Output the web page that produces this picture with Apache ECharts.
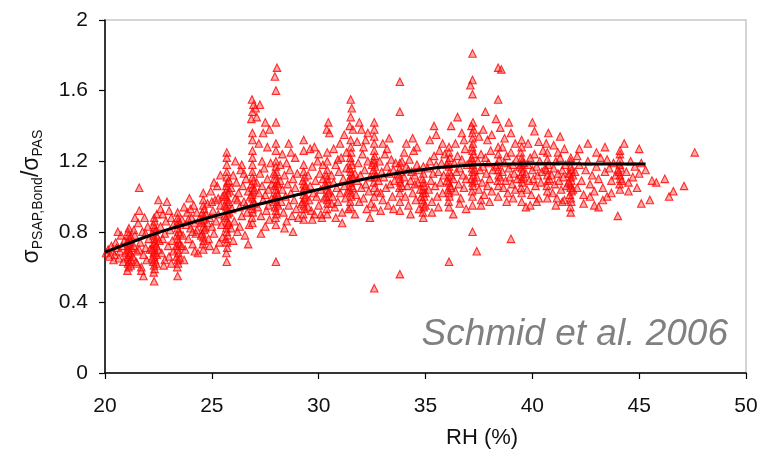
<!DOCTYPE html>
<html>
<head>
<meta charset="utf-8">
<script src="https://cdn.jsdelivr.net/npm/echarts@6/dist/echarts.min.js"></script>
<style>html,body{margin:0;padding:0;background:#fff}#c{width:761px;height:451px}</style>
</head>
<body>
<div id="c"></div>
<script>
var xTicks = [20, 25, 30, 35, 40, 45, 50];
var yTicks = [0, 0.4, 0.8, 1.2, 1.6, 2];
var fitRH = [20,21,22,23,24,25,26,27,28,29,30,31,32,33,34,35,36,37,38,39,40,41,42,43,44,45.3];
var fitRatio = [0.685,0.73,0.775,0.815,0.85,0.885,0.918,0.95,0.98,1.01,1.04,1.068,1.095,1.118,1.138,1.155,1.168,1.177,1.182,1.184,1.185,1.185,1.185,1.184,1.184,1.184];
var points = [
[20.05,0.68],[20.15,0.70],[20.2,0.66],[20.3,0.72],[20.35,0.69],[20.45,0.67],[20.5,0.74],[20.55,0.71],[20.65,0.65],[20.7,0.69],[20.75,0.78],[20.8,0.72],[20.85,0.63],[20.9,0.75],[20.95,0.68],[20.6,0.80],[20.4,0.64],
[21.05,0.58],[21.1,0.60],[21.08,0.62],[21.12,0.63],[21.1,0.65],[21.06,0.66],[21.14,0.67],[21.1,0.69],[21.08,0.70],[21.12,0.72],[21.1,0.73],[21.06,0.75],[21.14,0.76],[21.1,0.78],[21.08,0.80],[21.12,0.82],[21.2,0.61],[21.22,0.64],[21.2,0.68],[21.24,0.71],[21.2,0.74],[21.22,0.77],
[21.3,0.66],[21.35,0.72],[21.4,0.78],[21.45,0.63],[21.5,0.69],[21.55,0.85],[21.6,1.05],[21.6,0.92],[21.65,0.74],[21.7,0.60],[21.75,0.80],[21.8,0.67],[21.85,0.88],[21.9,0.71],[21.95,0.64],[22.0,0.83],[22.05,0.76],[21.4,0.88],[21.7,0.58],[21.8,0.55],[21.5,0.62],[21.9,0.79],[22.1,0.70],[21.35,0.81],[21.6,0.70],
[22.3,0.52],[22.28,0.57],[22.32,0.59],[22.3,0.61],[22.26,0.63],[22.34,0.64],[22.3,0.66],[22.28,0.68],[22.32,0.69],[22.3,0.71],[22.26,0.73],[22.34,0.74],[22.3,0.76],[22.28,0.78],[22.32,0.80],[22.3,0.82],[22.28,0.84],[22.32,0.86],[22.3,0.88],[22.4,0.62],[22.42,0.67],[22.4,0.72],[22.44,0.77],[22.4,0.81],[22.42,0.90],[22.2,0.70],[22.2,0.65],[22.2,0.79],
[22.5,0.98],[22.55,0.75],[22.6,0.83],[22.65,0.68],[22.7,0.90],[22.75,0.61],[22.8,0.79],[22.85,0.86],[22.9,0.97],[22.95,0.72],[23.0,0.66],[23.05,0.81],[23.1,0.88],[23.15,0.75],[23.2,0.69],[22.6,0.93],[22.8,0.64],[23.0,0.92],[22.7,0.76],[23.2,0.84],[22.5,0.70],[23.1,0.62],
[23.4,0.55],[23.38,0.60],[23.42,0.62],[23.4,0.64],[23.36,0.66],[23.44,0.68],[23.4,0.70],[23.38,0.72],[23.42,0.74],[23.4,0.76],[23.36,0.78],[23.44,0.80],[23.4,0.82],[23.38,0.84],[23.42,0.86],[23.4,0.88],[23.4,0.91],[23.5,0.65],[23.5,0.73],[23.52,0.79],[23.5,0.85],
[23.6,0.87],[23.65,0.78],[23.7,0.94],[23.75,0.70],[23.8,0.84],[23.85,0.91],[23.9,0.76],[23.95,0.99],[24.0,0.82],[24.05,0.88],[24.1,0.73],[24.15,0.95],[24.2,0.85],[24.25,0.79],[24.3,0.91],[24.35,0.68],[24.4,0.87],[23.7,0.64],[24.0,0.93],[24.3,0.81],[23.9,0.87],[24.1,0.80],[24.2,0.69],[23.6,0.72],
[24.6,0.70],[24.58,0.73],[24.62,0.75],[24.6,0.77],[24.56,0.79],[24.64,0.81],[24.6,0.83],[24.58,0.85],[24.62,0.87],[24.6,0.89],[24.56,0.91],[24.64,0.93],[24.6,0.95],[24.6,0.98],[24.6,1.02],[24.5,0.78],[24.52,0.86],[24.7,0.82],[24.72,0.90],
[24.8,0.96],[24.85,0.76],[24.9,0.88],[24.95,1.03],[25.0,0.83],[25.05,0.92],[25.1,0.79],[25.15,0.98],[25.2,0.86],[25.25,1.06],[25.3,0.90],[25.35,0.74],[25.4,0.95],[25.45,0.84],[25.5,1.00],[25.5,0.77],[24.9,0.72],[25.2,0.70],[25.1,1.08],[25.4,1.12],[25.0,0.97],[25.3,0.99],[24.8,0.85],
[25.7,0.63],[25.68,0.68],[25.72,0.71],[25.7,0.74],[25.66,0.76],[25.74,0.78],[25.7,0.80],[25.68,0.82],[25.72,0.84],[25.7,0.86],[25.66,0.88],[25.74,0.90],[25.7,0.92],[25.68,0.94],[25.72,0.96],[25.7,0.98],[25.66,1.00],[25.74,1.02],[25.7,1.04],[25.68,1.06],[25.72,1.08],[25.7,1.11],[25.7,1.14],[25.7,1.18],[25.7,1.22],[25.7,1.25],[25.8,0.85],[25.82,0.91],[25.8,0.97],[25.84,1.03],[25.8,1.09],[25.6,0.89],[25.6,0.95],[25.6,1.01],
[25.9,1.05],[25.95,0.93],[26.0,1.12],[26.05,0.86],[26.1,0.99],[26.15,1.08],[26.2,0.80],[26.25,1.02],[26.3,0.94],[26.35,1.15],[26.4,0.89],[26.45,1.06],[26.5,0.97],[26.55,0.78],[26.6,1.10],[26.65,0.91],[26.7,1.03],[26.75,0.84],[26.0,0.75],[26.2,0.98],[26.4,1.18],[26.6,0.95],[26.3,0.83],[26.5,1.13],[26.1,1.20],[25.9,0.82],[26.7,0.73],
[26.9,0.85],[26.88,0.88],[26.92,0.91],[26.9,0.93],[26.86,0.95],[26.94,0.97],[26.9,0.99],[26.88,1.01],[26.92,1.03],[26.9,1.05],[26.86,1.07],[26.94,1.09],[26.9,1.11],[26.9,1.14],[26.9,1.18],[26.9,1.22],[26.9,1.26],[26.9,1.32],[26.9,1.36],[26.85,1.44],[26.9,1.48],[26.95,1.52],[26.88,1.55],[27.05,1.50],[27.1,1.45],[27.0,0.96],[27.0,1.04],[26.8,1.00],
[27.1,1.08],[27.15,0.94],[27.2,1.02],[27.25,1.13],[27.3,0.89],[27.35,1.06],[27.4,0.98],[27.45,1.16],[27.5,1.01],[27.55,0.92],[27.6,1.10],[27.65,1.04],[27.7,0.87],[27.75,1.19],[27.8,0.99],[27.2,1.30],[27.4,1.36],[27.6,1.28],[27.3,0.79],[27.5,0.83],[27.8,1.07],[27.25,1.52],[27.5,1.42],[27.7,1.38],[27.35,1.20],[27.65,0.95],
[28.0,0.84],[27.98,0.88],[28.02,0.90],[28.0,0.92],[27.96,0.94],[28.04,0.96],[28.0,0.98],[27.98,1.00],[28.02,1.02],[28.0,1.04],[27.96,1.06],[28.04,1.08],[28.0,1.10],[27.98,1.12],[28.02,1.14],[28.0,1.17],[28.0,1.20],[28.0,1.26],[28.0,1.30],[28.0,1.42],[28.0,1.60],[27.95,1.68],[28.05,1.73],[28.0,0.63],[28.1,0.95],[28.1,1.01],[28.1,1.07],[27.9,0.97],[27.9,1.13],
[28.2,1.09],[28.25,0.97],[28.3,1.04],[28.35,0.91],[28.4,1.12],[28.45,1.00],[28.5,0.86],[28.55,1.07],[28.6,0.95],[28.65,1.15],[28.7,1.02],[28.75,0.89],[28.8,1.10],[28.85,0.98],[28.9,1.05],[28.95,0.93],[29.0,1.13],[28.3,1.24],[28.6,1.30],[28.9,1.22],[28.4,0.82],[28.8,0.80],[28.2,1.18],[28.5,1.19],[29.05,0.88],[28.7,1.25],
[29.3,0.87],[29.28,0.90],[29.32,0.93],[29.3,0.95],[29.26,0.97],[29.34,0.99],[29.3,1.01],[29.28,1.03],[29.32,1.05],[29.3,1.07],[29.26,1.09],[29.34,1.11],[29.3,1.14],[29.3,1.18],[29.3,1.26],[29.3,1.32],[29.4,1.00],[29.4,1.06],[29.2,0.96],
[29.5,1.12],[29.55,0.98],[29.6,1.06],[29.65,0.92],[29.7,1.17],[29.75,1.02],[29.8,0.90],[29.85,1.09],[29.9,1.00],[29.95,1.20],[30.0,0.95],[30.05,1.13],[30.1,1.04],[30.15,0.88],[30.2,1.10],[30.25,0.99],[29.6,1.27],[30.0,1.24],[29.8,1.28],[29.7,0.87],[30.2,1.18],[29.5,0.94],[30.1,0.90],
[30.4,0.90],[30.38,0.93],[30.42,0.96],[30.4,0.98],[30.36,1.00],[30.44,1.02],[30.4,1.04],[30.38,1.06],[30.42,1.08],[30.4,1.10],[30.36,1.12],[30.4,1.15],[30.4,1.20],[30.4,1.25],[30.45,1.42],[30.38,1.38],[30.5,1.36],[30.5,1.03],[30.3,1.07],
[30.6,1.12],[30.65,1.00],[30.7,1.08],[30.75,0.94],[30.8,1.18],[30.85,1.05],[30.9,0.97],[30.95,1.14],[31.0,1.02],[31.05,1.22],[31.1,0.91],[31.15,1.10],[31.2,1.06],[31.25,0.99],[31.3,1.16],[31.35,1.03],[30.7,1.27],[31.0,1.30],[31.2,1.35],[30.8,0.88],[31.1,0.85],[31.3,1.25],[30.9,1.21],[31.4,0.93],[30.6,0.96],
[31.5,0.94],[31.48,0.97],[31.52,1.00],[31.5,1.02],[31.46,1.04],[31.54,1.06],[31.5,1.08],[31.48,1.10],[31.52,1.12],[31.5,1.14],[31.46,1.16],[31.54,1.18],[31.5,1.20],[31.48,1.22],[31.52,1.25],[31.5,1.28],[31.5,1.32],[31.45,1.40],[31.5,1.45],[31.55,1.50],[31.5,1.55],[31.6,1.05],[31.6,1.11],[31.4,1.09],[31.6,1.38],
[31.7,1.13],[31.75,1.01],[31.8,1.09],[31.85,1.19],[31.9,0.97],[31.95,1.12],[32.0,1.05],[32.05,1.24],[32.1,0.99],[32.15,1.15],[32.2,1.07],[32.25,0.93],[32.3,1.20],[32.35,1.03],[32.4,1.11],[32.45,0.96],[31.8,1.31],[32.0,1.38],[32.2,1.32],[31.7,0.90],[32.4,0.88],[32.1,1.28],[31.9,1.42],[32.3,1.36],
[32.6,1.05],[32.58,1.08],[32.62,1.11],[32.6,1.13],[32.56,1.15],[32.64,1.17],[32.6,1.19],[32.58,1.21],[32.62,1.23],[32.6,1.26],[32.6,1.30],[32.6,1.34],[32.6,1.38],[32.6,1.42],[32.6,1.00],[32.6,0.94],[32.6,0.48],[32.7,1.12],[32.5,1.18],
[32.8,1.09],[32.85,1.20],[32.9,1.02],[32.95,1.14],[33.0,0.98],[33.05,1.11],[33.1,1.24],[33.15,1.05],[33.2,1.17],[33.25,0.95],[33.3,1.13],[33.35,1.07],[33.4,1.21],[33.45,1.00],[33.5,1.15],[33.55,1.09],[33.0,1.30],[33.3,1.33],[32.9,0.92],[33.5,0.93],[33.2,1.27],[33.6,1.19],[32.75,1.03],
[33.8,1.02],[33.78,1.05],[33.82,1.08],[33.8,1.10],[33.76,1.12],[33.84,1.14],[33.8,1.16],[33.8,1.19],[33.8,0.97],[33.8,0.92],[33.8,1.48],[33.8,1.65],[33.8,0.56],[33.9,1.06],[33.7,1.13],[33.9,1.20],
[34.0,1.11],[34.05,1.00],[34.1,1.17],[34.15,1.06],[34.2,0.95],[34.25,1.21],[34.3,1.09],[34.35,1.14],[34.4,1.02],[34.45,1.26],[34.5,1.12],[34.55,0.98],[34.6,1.18],[34.65,1.08],[34.7,1.15],[34.75,1.04],[34.1,1.30],[34.4,1.33],[34.6,1.28],[34.3,0.90],[34.7,0.93],[34.0,1.25],[34.5,1.07],[34.2,1.15],
[34.9,0.88],[34.88,0.91],[34.92,0.94],[34.9,0.96],[34.86,0.98],[34.94,1.00],[34.9,1.02],[34.88,1.04],[34.92,1.06],[34.9,1.08],[34.86,1.10],[34.9,1.13],[34.9,1.17],[35.0,0.95],[35.0,1.02],[34.8,1.00],
[35.1,1.16],[35.15,1.04],[35.2,1.20],[35.25,1.09],[35.3,0.97],[35.35,1.13],[35.4,1.23],[35.45,1.06],[35.5,1.18],[35.55,1.00],[35.6,1.14],[35.65,1.26],[35.7,1.08],[35.75,1.19],[35.8,1.02],[35.85,1.12],[35.2,1.32],[35.5,1.35],[35.8,1.30],[35.3,0.91],[35.6,0.94],[35.4,1.40],[35.9,1.24],
[36.1,0.94],[36.08,0.97],[36.12,1.00],[36.1,1.02],[36.06,1.04],[36.14,1.06],[36.1,1.08],[36.08,1.11],[36.12,1.14],[36.1,1.17],[36.06,1.20],[36.14,1.22],[36.1,1.25],[36.1,1.28],[36.1,0.63],[36.2,1.05],[36.2,1.12],[36.0,1.09],[36.0,1.18],[36.2,1.40],
[36.3,1.10],[36.35,1.19],[36.4,1.03],[36.45,1.14],[36.5,1.23],[36.55,1.07],[36.6,1.16],[36.65,0.99],[36.7,1.21],[36.75,1.12],[36.8,1.05],[36.85,1.27],[36.9,1.10],[36.95,1.18],[36.4,1.30],[36.7,1.36],[36.6,0.96],[36.9,0.93],[36.5,1.45],[36.3,0.90],[36.8,1.32],
[37.2,1.00],[37.18,1.03],[37.22,1.06],[37.2,1.08],[37.16,1.10],[37.24,1.12],[37.2,1.14],[37.18,1.16],[37.22,1.18],[37.2,1.20],[37.16,1.22],[37.24,1.24],[37.2,1.26],[37.18,1.28],[37.22,1.30],[37.2,1.33],[37.2,1.36],[37.15,1.40],[37.22,1.42],[37.25,1.38],[37.2,0.95],[37.2,0.80],[37.2,1.58],[37.2,1.66],[37.2,1.81],[37.1,1.63],[37.3,1.15],[37.3,1.09],[37.1,1.19],
[37.4,1.11],[37.45,1.20],[37.5,1.04],[37.55,1.15],[37.6,1.24],[37.65,1.08],[37.7,1.17],[37.75,1.01],[37.8,1.22],[37.85,1.13],[37.9,1.06],[37.95,1.19],[38.0,1.10],[38.05,1.26],[38.1,1.03],[38.15,1.15],[37.5,1.34],[37.7,1.38],[37.9,1.32],[37.6,0.95],[38.0,0.97],[37.8,1.48],[38.1,1.35],[37.4,0.69],[37.6,0.98],
[38.4,1.06],[38.38,1.09],[38.42,1.12],[38.4,1.15],[38.36,1.18],[38.44,1.21],[38.4,1.24],[38.4,1.28],[38.4,1.00],[38.4,1.55],[38.4,1.73],[38.5,1.11],[38.3,1.17],[38.55,1.72],[38.5,1.39],[38.3,1.44],
[38.6,1.14],[38.65,1.05],[38.7,1.19],[38.75,1.09],[38.8,1.23],[38.85,1.02],[38.9,1.16],[38.95,1.11],[39.0,1.25],[39.05,1.07],[39.1,1.18],[39.15,1.13],[39.2,1.04],[39.25,1.21],[38.7,1.33],[39.0,1.36],[39.2,1.30],[38.8,0.97],[39.1,0.99],[38.9,1.42],[39.3,1.10],[38.6,1.28],[39.0,0.76],
[39.5,1.02],[39.48,1.05],[39.52,1.08],[39.5,1.10],[39.46,1.12],[39.54,1.14],[39.5,1.16],[39.48,1.18],[39.52,1.20],[39.5,1.22],[39.46,1.25],[39.5,1.28],[39.5,1.32],[39.5,0.97],[39.6,1.11],[39.4,1.17],[39.6,1.19],
[39.7,1.13],[39.75,1.04],[39.8,1.18],[39.85,1.09],[39.9,1.22],[39.95,1.01],[40.0,1.15],[40.05,1.10],[40.1,1.24],[40.15,1.06],[40.2,1.17],[40.25,1.12],[40.3,0.99],[40.35,1.20],[40.4,1.08],[40.45,1.14],[39.8,1.30],[40.1,1.37],[40.3,1.31],[39.9,0.95],[40.2,0.97],[40.0,1.42],[40.5,1.26],[39.7,0.94],
[40.7,1.03],[40.68,1.06],[40.72,1.09],[40.7,1.12],[40.66,1.15],[40.74,1.18],[40.7,1.21],[40.7,1.25],[40.7,0.99],[40.8,1.10],[40.6,1.16],[40.75,1.36],[40.65,1.30],
[40.9,1.12],[40.95,1.02],[41.0,1.16],[41.05,1.07],[41.1,1.20],[41.15,0.99],[41.2,1.13],[41.25,1.09],[41.3,1.22],[41.35,1.04],[41.4,1.15],[41.45,1.11],[41.5,0.98],[41.55,1.18],[41.6,1.06],[41.0,1.29],[41.3,1.34],[41.5,1.27],[41.1,0.95],[41.4,0.97],[41.7,1.13],[41.2,1.25],
[41.8,0.91],[41.78,0.94],[41.82,0.97],[41.8,0.99],[41.76,1.01],[41.84,1.03],[41.8,1.05],[41.78,1.07],[41.82,1.09],[41.8,1.11],[41.76,1.13],[41.84,1.15],[41.8,1.17],[41.8,1.20],[41.8,1.22],[41.9,1.04],[41.9,1.12],[41.7,1.08],
[42.0,1.14],[42.1,1.05],[42.2,1.18],[42.3,1.09],[42.4,1.01],[42.5,1.15],[42.6,1.20],[42.7,1.07],[42.8,1.12],[42.9,1.03],[43.0,1.17],[43.1,1.10],[43.2,1.22],[43.3,1.05],[43.4,1.14],[43.5,1.00],[43.6,1.16],[43.7,1.09],[43.8,1.19],[42.2,1.27],[42.6,1.30],[43.0,1.25],[43.4,1.28],[42.4,0.96],[42.9,0.95],[43.3,0.98],[43.7,1.02],[42.1,1.23],[42.7,1.00],[43.1,0.94],[43.5,1.21],[43.9,1.12],
[44.1,1.04],[44.08,1.07],[44.12,1.10],[44.1,1.12],[44.06,1.14],[44.14,1.16],[44.1,1.18],[44.1,1.21],[44.1,1.24],[44.1,1.26],[44.2,1.09],[44.0,1.15],[44.0,0.89],[44.3,1.30],[44.4,1.14],[44.5,1.08],[44.6,1.20],[44.7,1.11],[44.8,1.17],[44.9,1.05],[45.0,1.13],[45.1,1.19],[45.0,1.27],[45.3,1.15],[44.5,1.03],[45.6,1.09],[45.8,1.08],[46.2,1.10],[45.1,0.96],[45.5,0.98],[46.4,1.00],[46.6,1.03],[47.1,1.06],[47.6,1.25]
];

var FONT = 'Liberation Sans, Arial, sans-serif';
var chart = echarts.init(document.getElementById('c'), null, {renderer: 'canvas'});
var fitData = fitRH.map(function (x, i) { return [x, fitRatio[i]]; });
chart.setOption({
  animation: false,
  backgroundColor: '#fff',
  grid: {left: 105, right: 15, top: 20, bottom: 78, show: true, borderColor: '#c8c8c8', borderWidth: 1.5, containLabel: false},
  xAxis: {
    type: 'value', min: xTicks[0], max: xTicks[xTicks.length - 1], interval: 5,
    axisLine: {show: true, onZero: false, lineStyle: {color: '#000', width: 1.5}},
    axisTick: {show: true, inside: false, length: 6, lineStyle: {color: '#000', width: 1.2}},
    axisLabel: {margin: 23, fontSize: 21, color: '#111', fontFamily: FONT},
    splitLine: {show: false}
  },
  yAxis: {
    type: 'value', min: yTicks[0], max: yTicks[yTicks.length - 1], interval: 0.4,
    axisLine: {show: true, onZero: false, lineStyle: {color: '#000', width: 1.5}},
    axisTick: {show: true, inside: false, length: 6, lineStyle: {color: '#000', width: 1.2}},
    axisLabel: {margin: 17, fontSize: 21, color: '#111', fontFamily: FONT},
    splitLine: {show: false},
    name: '{s|σ}{sub|PSAP,Bond}{s|/σ}{sub|PAS}',
    nameLocation: 'middle', nameGap: 60, nameRotate: 90,
    nameTextStyle: {
      color: '#111', fontFamily: FONT,
      rich: {
        s: {fontSize: 23, fontFamily: FONT, color: '#111'},
        sub: {fontSize: 14, fontFamily: FONT, color: '#111', padding: [12, 0, 0, 0]}
      }
    }
  },
  graphic: [
    {type: 'text', left: 446, top: 427, style: {text: 'RH (%)', fontSize: 22, fontFamily: FONT, fill: '#111'}},
    {type: 'text', right: 33, top: 316, style: {text: 'Schmid et al. 2006', fontSize: 37, fontStyle: 'italic', fontFamily: FONT, fill: '#808080'}}
  ],
  series: [
    {
      type: 'scatter', data: points, symbol: 'triangle', symbolSize: 7.5,
      itemStyle: {color: 'rgba(255,40,40,0.5)', borderColor: '#ff0000', borderWidth: 1.1},
      z: 2
    },
    {
      type: 'line', data: fitData, smooth: true, showSymbol: false, symbol: 'none',
      lineStyle: {color: '#000', width: 3}, z: 3
    }
  ]
});
</script>
</body>
</html>
